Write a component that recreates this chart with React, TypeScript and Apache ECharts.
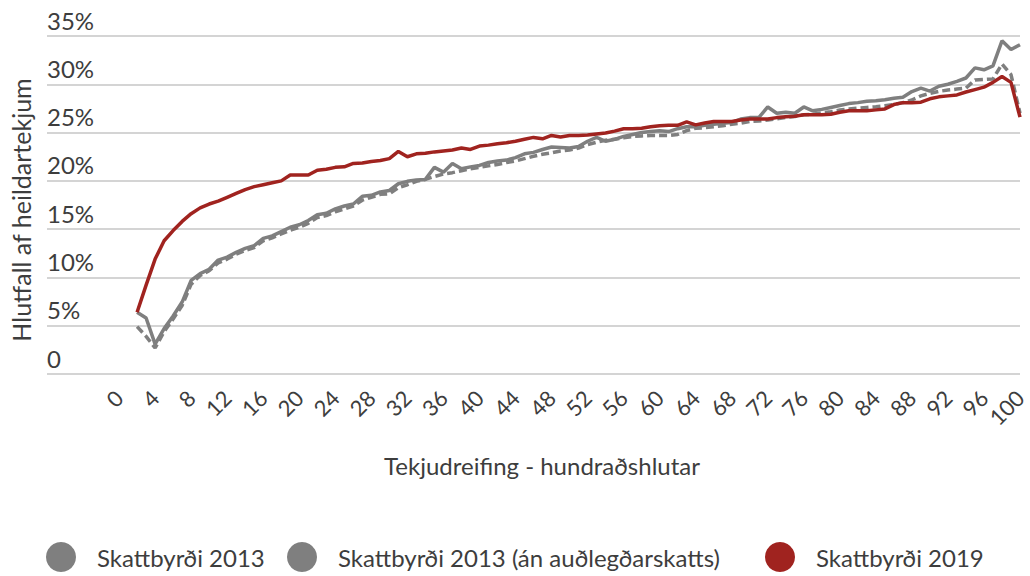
import React, { useEffect, useRef } from "react";
import * as echarts from "echarts";

// Percentiles (x positions of the data points)
const percentiles: number[] = Array.from({ length: 99 }, (_, i) => i + 2);

const xTickLabels = ["0","4","8","12","16","20","24","28","32","36","40","44","48","52","56","60","64","68","72","76","80","84","88","92","96","100"];
const yTickLabels = ["0","5%","10%","15%","20%","25%","30%","35%"];

const seriesNames = ["Skattbyrði 2013", "Skattbyrði 2013 (án auðlegðarskatts)", "Skattbyrði 2019"];

// Skattbyrði 2013 (solid grey), percentiles 2..100
const skatt2013 = [
  6.4, 5.8, 3.1, 4.7, 6.0, 7.45, 9.7, 10.4, 10.85, 11.8,
  12.1, 12.6, 13.0, 13.3, 14.05, 14.3, 14.75, 15.2, 15.45, 15.9,
  16.5, 16.65, 17.1, 17.4, 17.6, 18.4, 18.5, 18.85, 19.0, 19.7,
  19.95, 20.1, 20.15, 21.4, 20.9, 21.8, 21.25, 21.45, 21.6, 21.9,
  22.05, 22.15, 22.4, 22.8, 22.95, 23.25, 23.5, 23.45, 23.4, 23.55,
  24.1, 24.5, 24.1, 24.3, 24.6, 24.8, 25.0, 25.1, 25.2, 25.1,
  25.4, 25.6, 25.6, 25.75, 25.85, 25.97, 26.05, 26.4, 26.55, 26.55,
  27.65, 27.0, 27.1, 27.0, 27.65, 27.25, 27.4, 27.6, 27.8, 28.0,
  28.1, 28.25, 28.3, 28.4, 28.55, 28.65, 29.25, 29.6, 29.3, 29.8,
  30.0, 30.3, 30.65, 31.7, 31.5, 31.9, 34.5, 33.6, 34.1,
];

// Skattbyrði 2013 án auðlegðarskatts (dashed grey)
const skatt2013an = [
  4.9, 3.9, 2.7, 4.4, 5.7, 7.1, 9.3, 10.2, 10.7, 11.5,
  11.9, 12.4, 12.8, 13.1, 13.8, 14.1, 14.5, 14.9, 15.2, 15.6,
  16.2, 16.4, 16.8, 17.1, 17.4, 18.0, 18.3, 18.6, 18.65, 19.3,
  19.6, 19.95, 20.15, 20.45, 20.7, 20.85, 21.05, 21.25, 21.4, 21.55,
  21.7, 21.9, 22.05, 22.3, 22.55, 22.75, 22.9, 23.1, 23.2, 23.4,
  23.75, 24.0, 24.2, 24.3, 24.45, 24.6, 24.65, 24.7, 24.7, 24.7,
  24.8, 25.2, 25.45, 25.5, 25.6, 25.7, 25.87, 25.97, 26.15, 26.2,
  26.3, 26.42, 26.56, 26.67, 26.84, 26.9, 27.05, 27.15, 27.33, 27.43,
  27.53, 27.6, 27.67, 27.78, 27.9, 28.1, 28.37, 28.8, 29.06, 29.27,
  29.4, 29.5, 29.6, 30.45, 30.5, 30.55, 32.1, 31.0, 27.0,
];

// Skattbyrði 2019 (red)
const skatt2019 = [
  6.4, 9.2, 11.9, 13.8, 14.85, 15.8, 16.6, 17.2, 17.6, 17.9,
  18.3, 18.7, 19.1, 19.4, 19.6, 19.8, 20.0, 20.6, 20.6, 20.6,
  21.1, 21.2, 21.4, 21.45, 21.8, 21.85, 22.0, 22.1, 22.3, 23.05,
  22.5, 22.8, 22.85, 23.0, 23.1, 23.2, 23.4, 23.25, 23.6, 23.7,
  23.85, 23.95, 24.1, 24.3, 24.5, 24.35, 24.7, 24.55, 24.7, 24.7,
  24.75, 24.85, 24.95, 25.15, 25.4, 25.4, 25.45, 25.6, 25.7, 25.75,
  25.75, 26.1, 25.8, 26.0, 26.15, 26.15, 26.15, 26.3, 26.4, 26.4,
  26.4, 26.55, 26.65, 26.7, 26.85, 26.85, 26.85, 26.9, 27.1, 27.25,
  27.25, 27.25, 27.35, 27.45, 27.9, 28.1, 28.1, 28.15, 28.5, 28.7,
  28.8, 28.9, 29.2, 29.45, 29.7, 30.2, 30.8, 30.2, 26.6,
];

const xAxisTitle = "Tekjudreifing - hundraðshlutar";
const yAxisTitle = "Hlutfall af heildartekjum";

const FONT = "Lato";
const TEXT = "#3d3d3d";
const GREY = "#7f7f7f";
const RED = "#a0231f";

const legendLefts = [41, 282, 760];

export default function App() {
  const ref = useRef<HTMLDivElement>(null);
  useEffect(() => {
    if (!ref.current) return;
    const chart = echarts.init(ref.current, undefined, { renderer: "svg" });
    const pairs = (vals: number[]) => percentiles.map((p, i) => [p, vals[i]]);
    const legendBase = {
      top: 537,
      icon: "circle",
      itemWidth: 62,
      itemHeight: 30,
      itemGap: 9,
      itemStyle: { borderWidth: 0 },
      textStyle: { fontSize: 24, color: TEXT, fontFamily: FONT },
    };
    chart.setOption({
      animation: false,
      textStyle: { fontFamily: FONT },
      grid: { left: 47, right: 10, top: 36, bottom: 202, containLabel: false },
      legend: seriesNames.map((n, i) => ({ ...legendBase, left: legendLefts[i], data: [n] })),
      xAxis: {
        type: "value",
        min: -8,
        max: 100,
        interval: 4,
        axisLine: { show: false },
        axisTick: { show: false },
        splitLine: { show: false },
        axisLabel: {
          rotate: 45,
          margin: 20,
          fontSize: 22,
          color: TEXT,
          fontFamily: FONT,
          formatter: (v: number) => {
            const s = String(Math.round(v));
            return xTickLabels.includes(s) && v >= 0 ? s : "";
          },
        },
      },
      yAxis: {
        type: "value",
        min: 0,
        max: 35,
        interval: 5,
        axisLine: { show: false },
        axisTick: { show: false },
        splitLine: { lineStyle: { color: "#d4d4d4", width: 2 } },
        axisLabel: {
          inside: true,
          margin: 0,
          verticalAlign: "bottom",
          padding: [0, 0, 4, 0],
          fontSize: 24,
          color: TEXT,
          fontFamily: FONT,
          formatter: (v: number) => yTickLabels[Math.round(v / 5)] ?? "",
        },
      },
      graphic: [
        {
          type: "text",
          x: 542,
          y: 465,
          style: {
            text: xAxisTitle,
            fontSize: 24,
            fontFamily: FONT,
            fill: TEXT,
            textAlign: "center",
            textVerticalAlign: "middle",
          },
        },
        {
          type: "text",
          x: 21,
          y: 210,
          rotation: Math.PI / 2,
          style: {
            text: yAxisTitle,
            fontSize: 25,
            fontFamily: FONT,
            fill: TEXT,
            textAlign: "center",
            textVerticalAlign: "middle",
          },
        },
      ],
      series: [
        {
          name: seriesNames[0],
          type: "line",
          data: pairs(skatt2013),
          symbol: "none",
          color: GREY,
          lineStyle: { color: GREY, width: 3.5 },
        },
        {
          name: seriesNames[1],
          type: "line",
          data: pairs(skatt2013an),
          symbol: "none",
          color: GREY,
          lineStyle: { color: GREY, width: 3.5, type: [8, 4] },
        },
        {
          name: seriesNames[2],
          type: "line",
          data: pairs(skatt2019),
          symbol: "none",
          color: RED,
          lineStyle: { color: RED, width: 3.5 },
        },
      ],
    });
    return () => chart.dispose();
  }, []);
  return (
    <div
      ref={ref}
      style={{ position: "fixed", left: 0, top: 0, width: 1030, height: 576, background: "#fff" }}
    />
  );
}
